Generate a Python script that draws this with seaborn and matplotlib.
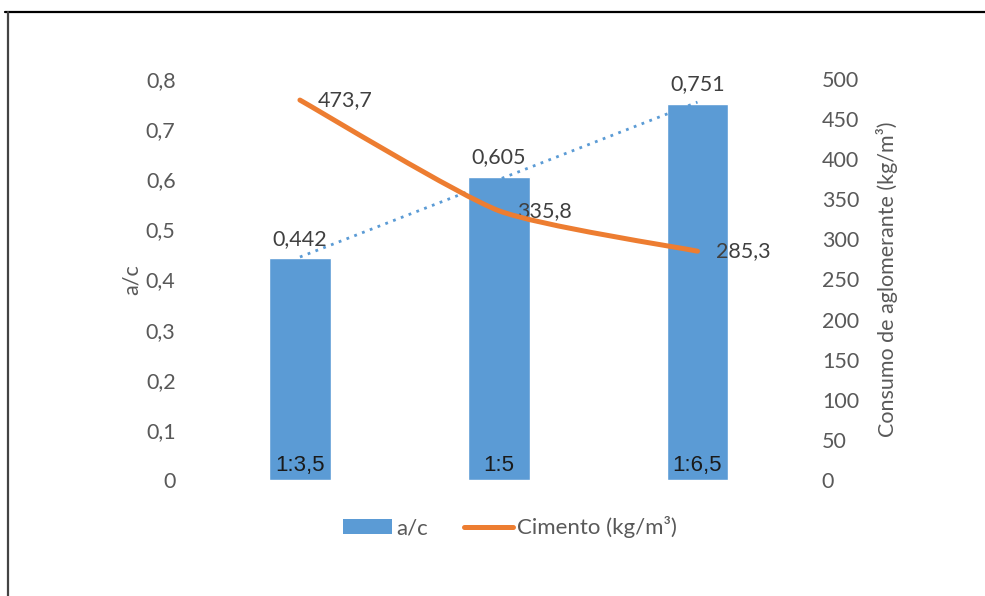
import numpy as np
import pandas as pd
import matplotlib
matplotlib.use("Agg")
import matplotlib.pyplot as plt
from matplotlib.path import Path
from matplotlib.patches import PathPatch, Patch
from matplotlib.lines import Line2D
import seaborn as sns

# Mix ratios and measured values
categories = ["1:3,5", "1:5", "1:6,5"]
ac_values = [0.442, 0.605, 0.751]
cement_values = [473.7, 335.8, 285.3]
ac_ticks = [0, 0.1, 0.2, 0.3, 0.4, 0.5, 0.6, 0.7, 0.8]
cement_ticks = [0, 50, 100, 150, 200, 250, 300, 350, 400, 450, 500]

BLUE = "#5B9BD5"
ORANGE = "#ED7D31"
GREY = "#595959"
FONT = ["Lato", "DejaVu Sans"]
FS = 15.5

sns.set_theme(style="white")
plt.rcParams["font.family"] = FONT

fig = plt.figure(figsize=(9.85, 5.96), dpi=100)
ax = fig.add_axes([0.2036, 0.1946, 0.6054, 0.6729])

df = pd.DataFrame({"traco": categories, "ac": ac_values})
sns.barplot(data=df, x="traco", y="ac", color=BLUE, saturation=1, width=0.31, ax=ax)
ax.set_xlim(-0.5, 2.5)
ax.set_ylim(0, 0.8)
ax.set_yticks(ac_ticks)
ax.set_yticklabels([f"{t:g}".replace(".", ",") for t in ac_ticks], color=GREY, fontsize=FS)
ax.set_xticks([])
ax.set_xlabel("")
ax.set_ylabel("a/c", color=GREY, fontsize=FS, labelpad=3)
ax.tick_params(axis="y", length=0, pad=18)
for s in ax.spines.values():
    s.set_visible(False)

xs = np.arange(len(categories))

# bar value labels and ratio labels inside the bars
for x, v, c in zip(xs, ac_values, categories):
    ax.annotate(f"{v:.3f}".replace(".", ","), (x, v), xytext=(0, 7), textcoords="offset points",
                ha="center", va="bottom", fontsize=FS, color="#404040")
    ax.annotate(c, (x, 0), xytext=(0, 3), textcoords="offset points", ha="center", va="bottom",
                fontsize=16, color="#1a1a1a", fontfamily="Liberation Sans")

# linear trend of a/c
coef = np.polyfit(xs, ac_values, 1)
ax.plot(xs, np.polyval(coef, xs), linestyle=(0, (1, 2.0)), color=BLUE, lw=2, zorder=3)

# secondary axis: cement consumption, smoothed line
ax2 = ax.twinx()
ax2.set_ylim(0, 500)
ax2.set_yticks(cement_ticks)
ax2.set_yticklabels([str(t) for t in cement_ticks], color=GREY, fontsize=FS)
ax2.tick_params(axis="y", length=0, pad=18)
ax2.set_ylabel("Consumo de aglomerante (kg/m³)", color=GREY, fontsize=FS, labelpad=12)
ax2.grid(False)
for s in ax2.spines.values():
    s.set_visible(False)

pts = np.column_stack([xs, cement_values]).astype(float)
ext = np.vstack([pts[0], pts, pts[-1]])
verts = [tuple(pts[0])]
codes = [Path.MOVETO]
k = 10.0
for i in range(len(pts) - 1):
    p0, p1, p2, p3 = ext[i], ext[i + 1], ext[i + 2], ext[i + 3]
    c1 = p1 + (p2 - p0) / k
    c2 = p2 - (p3 - p1) / k
    verts += [tuple(c1), tuple(c2), tuple(p2)]
    codes += [Path.CURVE4] * 3
ax2.add_patch(PathPatch(Path(verts, codes), fill=False, edgecolor=ORANGE, lw=3.6,
                        capstyle="round", zorder=4))
for x, v in zip(xs, cement_values):
    ax2.annotate(f"{v:.1f}".replace(".", ","), (x, v), xytext=(13, 0), textcoords="offset points",
                 ha="left", va="center", fontsize=FS, color="#404040")

handles = [Patch(facecolor=BLUE, edgecolor="none"), Line2D([], [], color=ORANGE, lw=3.6)]
fig.legend(handles, ["a/c", "Cimento (kg/m³)"], loc="center", bbox_to_anchor=(0.518, 0.115),
           ncol=2, frameon=False, fontsize=16, labelcolor=GREY, handlelength=2.2,
           handletextpad=0.2, columnspacing=1.6)

# outer frame lines
fig.add_artist(Line2D([5 / 985, 1.0], [1 - 12 / 596] * 2, transform=fig.transFigure, color="black", lw=1.6))
fig.add_artist(Line2D([8 / 985] * 2, [1 - 12 / 596, 0.0], transform=fig.transFigure, color="#444444", lw=1.6))

fig.savefig("out.png", dpi=100, facecolor="white")
